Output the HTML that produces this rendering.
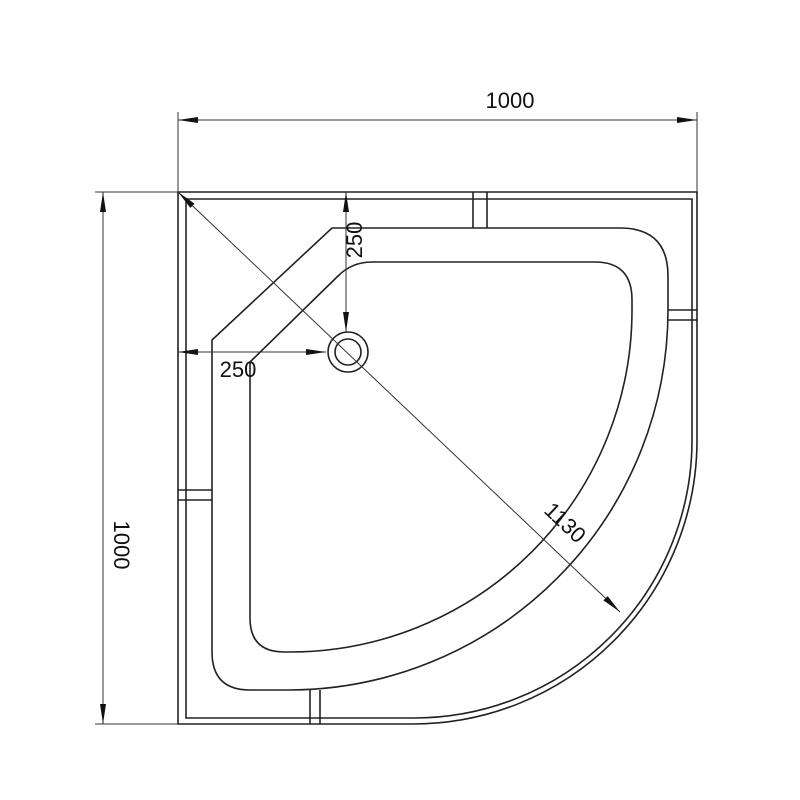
<!DOCTYPE html>
<html><head><style>body{margin:0;background:#fff}svg{display:block}</style></head><body>
<svg width="800" height="800" viewBox="0 0 800 800" xmlns="http://www.w3.org/2000/svg">
<defs>
<marker id="a" viewBox="0 0 20 8" refX="20" refY="4" markerWidth="20" markerHeight="8" markerUnits="userSpaceOnUse" orient="auto-start-reverse"><path d="M0,1 L20,4 L0,7 Z" fill="#111"/></marker>
</defs>
<g fill="none" stroke="#222" stroke-width="1.6">
<path d="M178,724 L178,192 L697,192 L697,440 A284,284 0 0 1 413,724 Z"/>
<path d="M186,718 L186,199 L692,199 L692,440 A278,278 0 0 1 413,718 Z"/>
<path d="M212,340 L332,228 L620,228 Q668,228 668,276 L668,310 A380,380 0 0 1 290,690 L250,690 Q212,690 212,652 Z"/>
<path d="M250,362 L338,276 Q352,262 372,262 L595,262 Q632,262 632,300 L632,310 A342,342 0 0 1 290,652 L284,652 Q250,652 250,618 Z"/>
<path d="M473,192 V228 M487,192 V228 M668,310 H697 M668,320 H697 M178,490 H212 M178,500 H212 M310,690 V724 M320,690 V724"/>
<circle cx="348" cy="352" r="20"/><circle cx="348" cy="352" r="13"/>
</g>
<g stroke="#333" stroke-width="1" fill="none">
<line x1="178" y1="112" x2="178" y2="192"/><line x1="697" y1="112" x2="697" y2="192"/>
<line x1="178" y1="120" x2="697" y2="120" marker-start="url(#a)" marker-end="url(#a)"/>
<line x1="95" y1="192" x2="178" y2="192"/><line x1="95" y1="724" x2="178" y2="724"/>
<line x1="103" y1="192" x2="103" y2="724" marker-start="url(#a)" marker-end="url(#a)"/>
<line x1="178" y1="192" x2="620" y2="612" marker-start="url(#a)" marker-end="url(#a)"/>
<line x1="346" y1="192" x2="346" y2="332" marker-start="url(#a)" marker-end="url(#a)"/>
<line x1="178" y1="352" x2="326" y2="352" marker-start="url(#a)" marker-end="url(#a)"/>
</g>
<g font-family="Liberation Sans, sans-serif" font-size="22" fill="#111" text-anchor="middle">
<text x="510" y="108">1000</text>
<text transform="translate(114,545) rotate(90)">1000</text>
<text transform="translate(560,528) rotate(43.5)">1130</text>
<text transform="translate(362,240) rotate(-90)">250</text>
<text x="238" y="377">250</text>
</g>
</svg>
</body></html>
